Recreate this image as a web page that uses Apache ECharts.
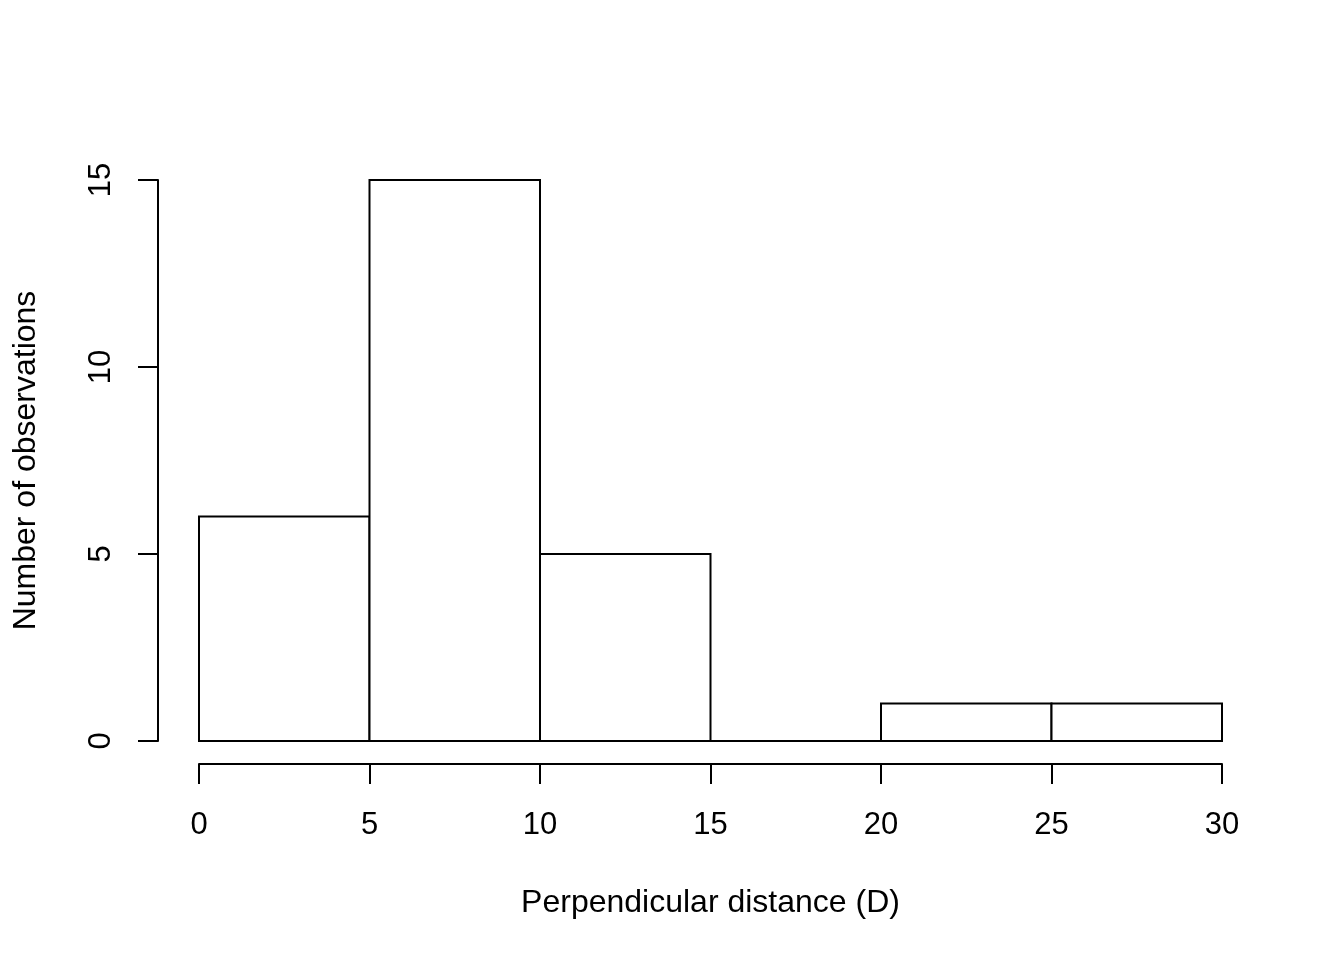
<!DOCTYPE html>
<html><head><meta charset="utf-8">
<script src="https://cdn.jsdelivr.net/npm/echarts@6/dist/echarts.min.js"></script>
<style>html,body{margin:0;padding:0;background:#fff}#c{width:1344px;height:960px}</style>
</head><body><div id="c"></div>
<script>
const binStarts = [0, 5, 10, 15, 20, 25];
const binEnds = [5, 10, 15, 20, 25, 30];
const counts = [6, 15, 5, 0, 1, 1];
const xTicks = [0, 5, 10, 15, 20, 25, 30];
const yTicks = [0, 5, 10, 15];

const data = binStarts.map((s, i) => [s, binEnds[i], counts[i]]);
const font = 'Liberation Sans, Arial, Helvetica, sans-serif';
const chart = echarts.init(document.getElementById('c'), null, {renderer: 'canvas'});
chart.setOption({
  animation: false,
  backgroundColor: '#fff',
  grid: {left: 199, right: 122, top: 180, bottom: 219, containLabel: false},
  xAxis: {
    type: 'value', min: 0, max: 30, interval: 5, offset: 23,
    name: 'Perpendicular distance (D)', nameLocation: 'middle', nameGap: 123,
    nameMoveOverlap: false,
    nameTextStyle: {fontFamily: font, fontSize: 32, color: '#000'},
    axisLine: {show: true, onZero: false, lineStyle: {color: '#000', width: 2}},
    axisTick: {show: true, length: 20, lineStyle: {color: '#000', width: 2}},
    axisLabel: {fontFamily: font, fontSize: 31, color: '#000', margin: 46,
      customValues: xTicks},
    splitLine: {show: false}
  },
  yAxis: {
    type: 'value', min: 0, max: 15, interval: 5, offset: 41,
    name: 'Number of observations', nameLocation: 'middle', nameGap: 116,
    nameMoveOverlap: false,
    nameTextStyle: {fontFamily: font, fontSize: 32, color: '#000'},
    axisLine: {show: true, onZero: false, lineStyle: {color: '#000', width: 2}},
    axisTick: {show: true, length: 20, lineStyle: {color: '#000', width: 2}},
    axisLabel: {fontFamily: font, fontSize: 31, color: '#000', rotate: 90, margin: 41,
      customValues: yTicks},
    splitLine: {show: false}
  },
  series: [{
    type: 'custom',
    data: data,
    encode: {x: [0, 1], y: 2},
    renderItem: function (params, api) {
      const p0 = api.coord([api.value(0), 0]);
      const p1 = api.coord([api.value(1), api.value(2)]);
      return {
        type: 'rect',
        shape: {x: p0[0], y: p1[1], width: p1[0] - p0[0], height: p0[1] - p1[1]},
        style: {fill: '#fff', stroke: '#000', lineWidth: 2}
      };
    }
  }]
});
</script></body></html>
